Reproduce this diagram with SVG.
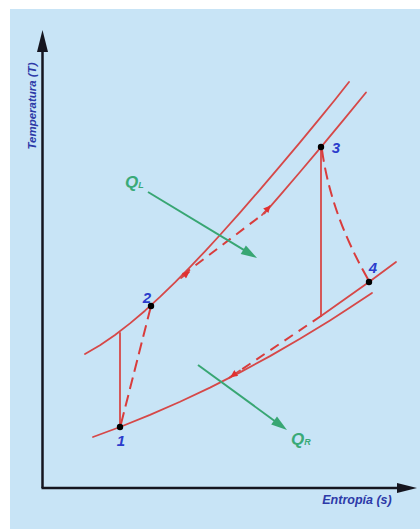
<svg xmlns="http://www.w3.org/2000/svg" width="420" height="529" viewBox="0 0 420 529">
<style>
.curve{fill:none;stroke:#d64848;stroke-width:1.8;stroke-linejoin:round;stroke-linecap:round}
.dash1{fill:none;stroke:#d93c3c;stroke-width:2;stroke-dasharray:12 6}
.dash2{fill:none;stroke:#d93c3c;stroke-width:2;stroke-dasharray:10 7}
.axis{fill:none;stroke:#15151f;stroke-width:2.5}
.green{fill:none;stroke:#38a673;stroke-width:2}
.gfill{fill:#38a673}
.pt{fill:#000}
.num{font-family:"Liberation Sans",Arial,sans-serif;font-weight:bold;font-style:italic;font-size:15px;fill:#2b3ccc;text-anchor:middle}
.axlab{font-family:"Liberation Sans",Arial,sans-serif;font-weight:bold;font-style:italic;fill:#2d3aa8;text-anchor:middle}
.q{font-family:"Liberation Sans",Arial,sans-serif;font-weight:bold;font-style:italic;fill:#3aaa78}
</style>
<defs>
<marker id="ra" viewBox="0 0 10 10" refX="9" refY="5" markerWidth="9" markerHeight="7" markerUnits="userSpaceOnUse" orient="auto"><path d="M0,0 L10,5 L0,10 z" fill="#e03030"/></marker>
</defs>
<rect x="0" y="0" width="420" height="529" fill="#ffffff"/>
<rect x="10" y="9" width="410" height="520" fill="#c8e4f6"/>

<g id="axes">
<path class="axis" d="M42.5,488 V50"/>
<polygon points="42.5,30 37,52 48,52" fill="#15151f"/>
<path class="axis" d="M41.5,488 H400"/>
<polygon points="417,488 397,483 397,493" fill="#15151f"/>
<text class="axlab" font-size="11.5" transform="translate(36,106) rotate(-90)">Temperatura (T)</text>
<text class="axlab" font-size="12.5" x="357" y="504">Entropía (s)</text>
</g>

<g id="connectors">
<path class="curve" d="M85,354 L100,345.3 L115,335 L130,323.4 L145,310.7 L160,296.9 L175,282.4 L190,267.1 L205,251.3 L220,235 L240,212.6 L260,189.6 L280,166.1 L300,142.3 L320,118.1 L335,99.8 L349,82"/>
<path class="curve" d="M265,212.6 L280,195.4 L300,172 L321,147.1 L345,118.1 L366,92.5"/>
<path class="curve" d="M93,437 L120,427 L150,414.9 L180,401.8 L210,387.6 L240,372.4 L270,356.1 L300,338.8 L330,320.4 L350,307.6 L372,293"/>
<path class="curve" d="M321,316 L345,299 L369,282 L396,262"/>
<path class="curve" d="M120,427 V333"/>
<path class="curve" d="M321,147 V316"/>
<path class="dash1" d="M121,424 L151,306"/>
<path class="dash1" d="M322,150 Q331,215 369,281"/>
<path class="dash2" d="M182,275.5 L265,212.6"/>
<path class="dash2" d="M321,316 L229,378"/>
<path class="curve" d="M262,215 L270,206" marker-end="url(#ra)"/>
<path class="curve" d="M181,278 L189,272" marker-end="url(#ra)"/>
<path class="curve" d="M240,370.5 L231,376.5" marker-end="url(#ra)"/>
<path class="green" d="M148,192 L245,250.7"/>
<polygon class="gfill" points="257,258 240.7,254 245.9,245.4"/>
<path class="green" d="M198,365 L275,421.2"/>
<polygon class="gfill" points="287,430 271.2,424.6 277,416.6"/>
</g>

<g id="p1"><circle class="pt" cx="120" cy="427" r="3.2"/><text class="num" x="121" y="446">1</text></g>
<g id="p2"><circle class="pt" cx="151" cy="306" r="3.2"/><text class="num" x="147" y="303">2</text></g>
<g id="p3"><circle class="pt" cx="321" cy="147" r="3.2"/><text class="num" x="336" y="153">3</text></g>
<g id="p4"><circle class="pt" cx="369" cy="282" r="3.2"/><text class="num" x="373" y="273">4</text></g>
<g id="QL"><text class="q" x="125" y="188" font-size="17">Q<tspan font-size="9">L</tspan></text></g>
<g id="QR"><text class="q" x="291" y="445" font-size="17">Q<tspan font-size="9">R</tspan></text></g>
</svg>
